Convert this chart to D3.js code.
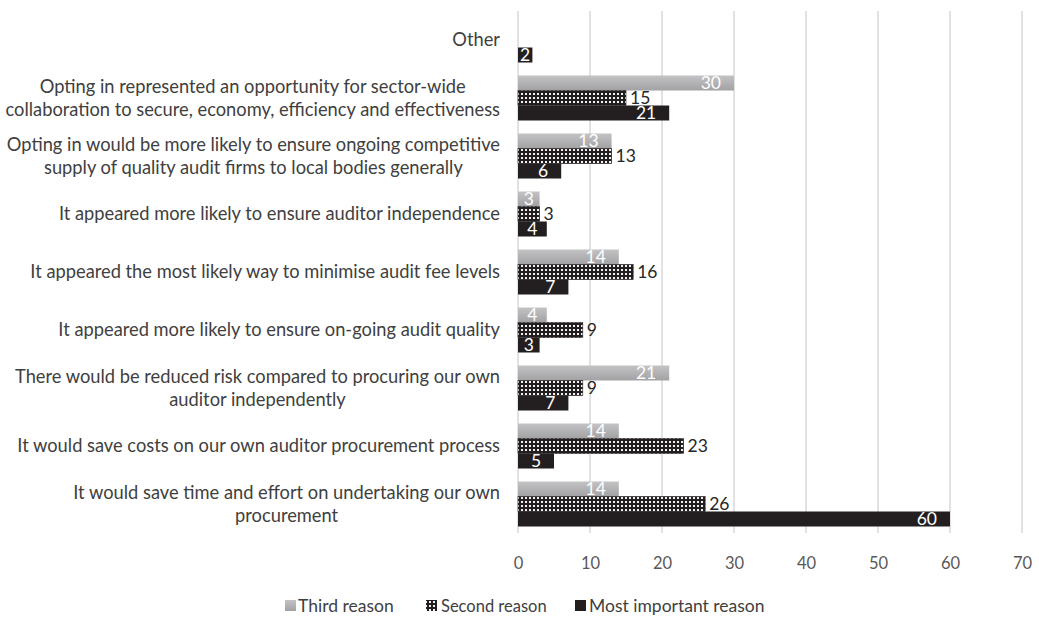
<!DOCTYPE html>
<html>
<head>
<meta charset="utf-8">
<script src="https://cdn.jsdelivr.net/npm/d3@7"></script>
<style>
  body { margin: 0; background: #fff; }
  svg text { font-family: Lato, "Noto Sans", sans-serif; }
</style>
</head>
<body>
<div id="chart"></div>
<script>
// categories, top to bottom; "|" marks a line break
var categories = [
  "Other",
  "Opting in represented an opportunity for sector-wide|collaboration to secure, economy, efficiency and effectiveness",
  "Opting in would be more likely to ensure ongoing competitive|supply of quality audit firms to local bodies generally",
  "It appeared more likely to ensure auditor independence",
  "It appeared the most likely way to minimise audit fee levels",
  "It appeared more likely to ensure on-going audit quality",
  "There would be reduced risk compared to procuring our own|auditor independently",
  "It would save costs on our own auditor procurement process",
  "It would save time and effort on undertaking our own|procurement"
];
var thirdReason  = [null, 30, 13, 3, 14, 4, 21, 14, 14];
var secondReason = [null, 15, 13, 3, 16, 9, 9, 23, 26];
var mostReason   = [2, 21, 6, 4, 7, 3, 7, 5, 60];
var seriesNames  = ["Third reason", "Second reason", "Most important reason"];
var xTicks = [0, 10, 20, 30, 40, 50, 60, 70];

var W = 1039, H = 621;
var plotL = 518, plotR = 1022, plotT = 11, plotB = 533;

var svg = d3.select("#chart").append("svg")
  .attr("width", W).attr("height", H);

var defs = svg.append("defs");
var grad = defs.append("linearGradient").attr("id", "grayGrad")
  .attr("x1", 0).attr("y1", 0).attr("x2", 0).attr("y2", 1);
grad.append("stop").attr("offset", "0%").attr("stop-color", "#c3c3c5");
grad.append("stop").attr("offset", "100%").attr("stop-color", "#a2a2a4");

var pat = defs.append("pattern").attr("id", "dots")
  .attr("patternUnits", "userSpaceOnUse").attr("width", 4).attr("height", 4);
pat.append("rect").attr("width", 4).attr("height", 4).attr("fill", "#231f20");
pat.append("rect").attr("x", 1).attr("y", 1).attr("width", 2).attr("height", 2).attr("fill", "#f2f2f2");

var x = d3.scaleLinear().domain([0, 70]).range([plotL, plotR]);
var y = d3.scaleBand().domain(d3.range(categories.length))
  .range([plotT, plotB]).paddingInner(0.224).paddingOuter(0.112);
var ys = d3.scaleBand().domain([0, 1, 2]).range([0, y.bandwidth()]);

// gridlines
svg.append("g").selectAll("line").data(xTicks).join("line")
  .attr("x1", d => x(d)).attr("x2", d => x(d))
  .attr("y1", plotT).attr("y2", plotB)
  .attr("stroke", "#d9d9d9").attr("stroke-width", 1.5);

// x axis labels
var xAxis = svg.append("g").attr("transform", "translate(0," + (plotB + 24) + ")")
  .call(d3.axisBottom(x).tickValues(xTicks).tickSize(0).tickPadding(0));
xAxis.select(".domain").remove();
xAxis.selectAll("text").attr("font-size", 16.5).attr("fill", "#595959")
  .attr("dy", "0.71em").style("font-family", "Lato, sans-serif");

// category labels
var catG = svg.append("g");
categories.forEach(function(c, i) {
  var lines = c.split("|");
  var cy = y(i) + y.bandwidth() / 2;
  var t = catG.append("text").attr("font-size", 18.3).attr("fill", "#404040")
    .attr("text-anchor", "middle");
  lines.forEach(function(l, j) {
    t.append("tspan").attr("y", cy + (j - (lines.length - 1) / 2) * 23).attr("dy", "0.35em").text(l);
  });
  // centre the block so the widest line ends at x = 500
  var maxW = 0;
  t.selectAll("tspan").each(function() { maxW = Math.max(maxW, this.getComputedTextLength()); });
  t.selectAll("tspan").attr("x", 500 - maxW / 2);
});

var series = [thirdReason, secondReason, mostReason];
var fills = ["url(#grayGrad)", "url(#dots)", "#231f20"];

series.forEach(function(vals, s) {
  var g = svg.append("g");
  vals.forEach(function(v, i) {
    if (v == null) return;
    var by = y(i) + ys(s);
    var bh = ys.bandwidth();
    g.append("rect").attr("x", x(0)).attr("y", by)
      .attr("width", x(v) - x(0)).attr("height", bh)
      .attr("fill", fills[s])
      .attr("stroke", s === 1 ? "#231f20" : "none").attr("stroke-width", 0.6);
    var lab = g.append("text").attr("font-size", 17.5)
      .attr("y", by + bh / 2).attr("dy", "0.35em").text(v);
    if (s === 1) {
      lab.attr("x", x(v) + 4).attr("fill", "#262626");
    } else {
      var tw = lab.node().getComputedTextLength();
      var cx = Math.max(x(v) - 13 - tw / 2, (x(0) + x(v)) / 2);
      lab.attr("x", cx).attr("text-anchor", "middle").attr("fill", "#ffffff");
    }
  });
});

// legend
var legend = [
  { name: seriesNames[0], fill: "url(#grayGrad)", sx: 285, tx: 298, fs: 17.5 },
  { name: seriesNames[1], fill: "url(#dots)", sx: 426, tx: 441, fs: 16.5 },
  { name: seriesNames[2], fill: "#231f20", sx: 575, tx: 589, fs: 17.5 }
];
var lg = svg.append("g");
legend.forEach(function(d) {
  lg.append("rect").attr("x", d.sx).attr("y", 600).attr("width", 11).attr("height", 11)
    .attr("fill", d.fill);
  lg.append("text").attr("x", d.tx).attr("y", 606).attr("dy", "0.35em")
    .attr("font-size", d.fs).attr("fill", "#404040").text(d.name);
});
</script>
</body>
</html>
